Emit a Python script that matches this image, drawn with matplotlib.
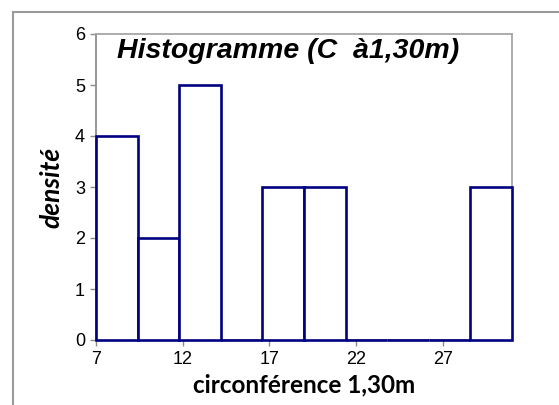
import matplotlib
matplotlib.use('Agg')
import matplotlib.pyplot as plt
from matplotlib.patches import Rectangle

# Données
bornes_gauches = [7, 9.4, 11.8, 14.2, 16.6, 19.0, 21.4, 23.8, 26.2, 28.6]
largeur_classe = 2.4
densites = [4, 2, 5, 0, 3, 3, 0, 0, 0, 3]
ticks_x = [7, 12, 17, 22, 27]
ticks_y = [0, 1, 2, 3, 4, 5, 6]

BLEU = '#000080'
GRIS = '#8c8c8c'

plt.rcParams['font.family'] = ['Liberation Sans', 'DejaVu Sans']
plt.rcParams['xtick.labelsize'] = 13
plt.rcParams['ytick.labelsize'] = 13

fig = plt.figure(figsize=(5.59, 4.05), dpi=100)
ax = fig.add_axes([96 / 559, 65 / 405, 416 / 559, 306 / 405])

# cadre extérieur (coupé à droite et en bas)
fig.patches.append(Rectangle((13 / 559, -0.1), 1.2, (405 - 12) / 405 + 0.1,
                             transform=fig.transFigure, fill=False,
                             edgecolor='#9a9a9a', linewidth=1.5))

ax.bar(bornes_gauches, densites, width=largeur_classe, align='edge',
       color='white', edgecolor=BLEU, linewidth=1.9, zorder=3, clip_on=False)

ax.set_xlim(7, 31)
ax.set_ylim(0, 6)
ax.set_xticks(ticks_x)
ax.set_yticks(ticks_y)

for s in ['left', 'bottom']:
    ax.spines[s].set_color(GRIS)
    ax.spines[s].set_linewidth(1.3)
for s in ['top', 'right']:
    ax.spines[s].set_color('#a6a6a6')
    ax.spines[s].set_linewidth(1.3)

ax.tick_params(direction='out', length=4, width=1, color=GRIS, pad=4)

ax.text(0.05, 0.92, 'Histogramme (C  à1,30m)', transform=ax.transAxes,
        fontsize=20.5, fontweight='bold', fontstyle='italic',
        va='baseline', ha='left')

ax.set_xlabel('circonférence 1,30m', fontsize=17.5, fontweight='bold',
              fontfamily='Lato', labelpad=4)
ax.set_ylabel('densité', fontsize=19, fontweight='bold', fontstyle='italic',
              fontfamily='Lato', labelpad=8)

fig.savefig('out.png', dpi=100)
